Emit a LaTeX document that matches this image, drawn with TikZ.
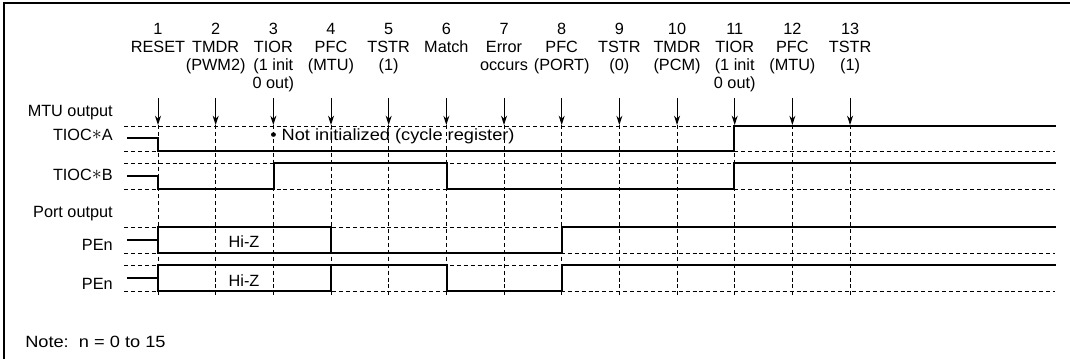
\documentclass[tikz,border=0pt]{standalone}
\usepackage{fontspec}
\setmainfont{Liberation Sans}
\newfontfamily\widefont{Liberation Sans}[FakeStretch=1.12]
\usetikzlibrary{arrows.meta}
\newcommand{\evtext}[1]{\begin{tabular}[t]{@{}c@{}}#1\end{tabular}}
\newcommand{\chstar}{\raisebox{0.8pt}{\scalebox{1.25}{$\ast$}}}

\begin{document}
\begin{tikzpicture}[x=0.75pt,y=-0.75pt,>=Stealth,
  txt/.style={font=\fontsize{12.2}{13.3}\selectfont,inner sep=0pt},
  lbl/.style={txt,anchor=base east},
  sig/.style={line width=1.5pt,line join=miter},
  guide/.style={line width=0.6pt,dash pattern=on 3pt off 2.2pt},
  evarrow/.style={line width=0.7pt,-{Stealth[length=7pt,width=4.5pt]}}]
\useasboundingbox (0,0) rectangle (1070,359);
\def\dx{57.67}
\def\xo{158}
% ---- frame (top and left edges) ----
\draw[line width=1.5pt] (4,359) -- (4,3) -- (1070,3);
% ---- row labels ----
\node[lbl] (mtuout) at (113,117) {MTU output};
\node[lbl] (tioca)  at (113,141) {TIOC\chstar A};
\node[lbl] (tiocb)  at (113,181) {TIOC\chstar B};
\node[lbl] (portout) at (113,218) {Port output};
\node[lbl] (pena)   at (113,251) {PEn};
\node[lbl] (penb)   at (113,290) {PEn};
% ---- dashed level lines of each row ----
\foreach \y in {126,151,163,189,227,253,265,291}{
  \coordinate (gl\y) at (124,\y);
  \coordinate (gr\y) at (1055,\y);
  \draw[guide] (gl\y) -- (gr\y);}
% ---- events: label, arrow and dashed marker ----
\foreach \i/\txt in {1/{1\\RESET},2/{2\\TMDR\\(PWM2)},3/{3\\TIOR\\(1 init\\0 out)},
    4/{4\\PFC\\(MTU)},5/{5\\TSTR\\(1)},6/{6\\Match},7/{7\\Error\\occurs},
    8/{8\\PFC\\(PORT)},9/{9\\TSTR\\(0)},10/{10\\TMDR\\(PCM)},
    11/{11\\TIOR\\(1 init\\0 out)},12/{12\\PFC\\(MTU)},13/{13\\TSTR\\(1)}}{
  \node[txt,anchor=base] (ev\i) at ({\xo+(\i-1)*\dx},35) {\evtext{\txt}};
  \coordinate (at\i) at ({\xo+(\i-1)*\dx},98);
  \coordinate (ab\i) at ({\xo+(\i-1)*\dx},125);
  \coordinate (vb\i) at ({\xo+(\i-1)*\dx},296);
  \draw[evarrow] (at\i) -- (ab\i);
  \draw[guide] (ab\i) -- (vb\i);}
% ---- TIOC*A ----
\draw[sig] (127,138) -- (\xo,138) -- (\xo,151) -- (734,151) -- (734,126) -- (1056,126);
\node[txt,anchor=base west] (note) at (270,141) {\widefont\textbullet\ Not initialized (cycle register)};
% ---- TIOC*B ----
\draw[sig] (127,176) -- (\xo,176) -- (\xo,189) -- (274,189) -- (274,163) -- (447,163)
  -- (447,189) -- (734,189) -- (734,163) -- (1056,163);
% ---- PEn (first) ----
\draw[sig] (127,240) -- (\xo,240);
\draw[sig] (\xo,227) rectangle (331,253);
\draw[sig] (331,253) -- (562,253) -- (562,227) -- (1056,227);
\node[txt,anchor=base] (hiza) at (244,248) {Hi-Z};
% ---- PEn (second) ----
\draw[sig] (127,278) -- (\xo,278);
\draw[sig] (\xo,265) rectangle (331,291);
\draw[sig] (331,265) -- (447,265) -- (447,291) -- (562,291) -- (562,265) -- (1056,265);
\node[txt,anchor=base] (hizb) at (244,287) {Hi-Z};
% ---- note ----
\node[txt,anchor=base west] (nrange) at (25,348) {\widefont Note:\ \ n = 0 to 15};
\end{tikzpicture}
\end{document}
